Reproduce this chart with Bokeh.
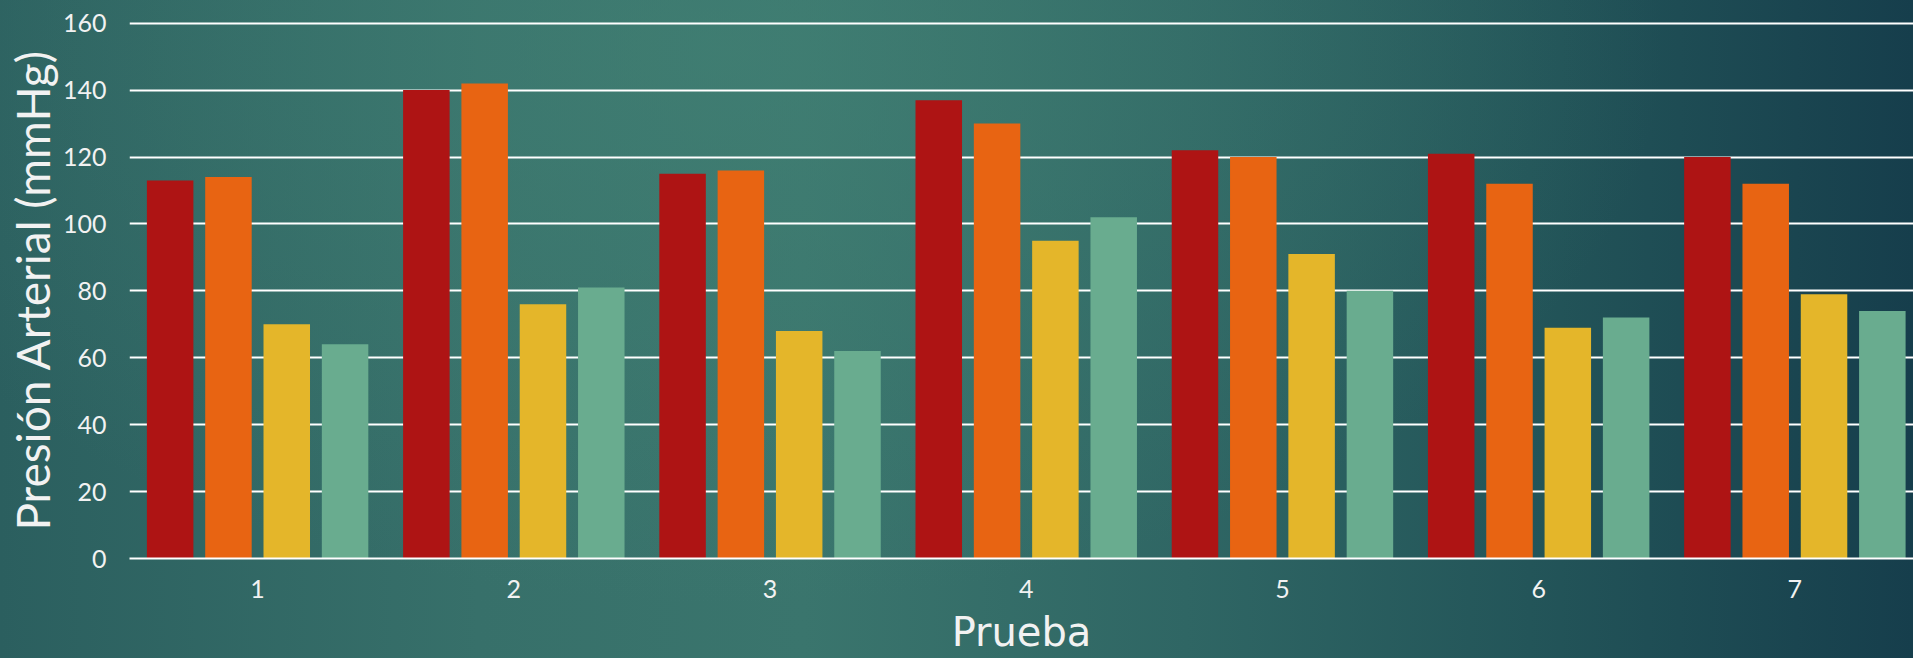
from bokeh.plotting import figure
from bokeh.models import ColumnDataSource, Range1d, FixedTicker
from bokeh.transform import dodge
from bokeh.embed import file_html
from bokeh.resources import INLINE

# Data
pruebas = [1, 2, 3, 4, 5, 6, 7]
tick_labels = ["1", "2", "3", "4", "5", "6", "7"]
serie_1 = [113, 140, 115, 137, 122, 121, 120]
serie_2 = [114, 142, 116, 130, 120, 112, 112]
serie_3 = [70, 76, 68, 95, 91, 69, 79]
serie_4 = [64, 81, 62, 102, 80, 72, 74]
y_ticks = [0, 20, 40, 60, 80, 100, 120, 140, 160]
x_title = "Prueba"
y_title = "Presión Arterial (mmHg)"

source = ColumnDataSource(dict(x=pruebas, s1=serie_1, s2=serie_2, s3=serie_3, s4=serie_4))

FONT = "Lato"
p = figure(width=1913, height=658, output_backend="svg", toolbar_location=None,
           x_range=Range1d(0.5, 7.463), y_range=Range1d(0, 160.5),
           min_border_left=129, min_border_right=0, min_border_top=21, min_border_bottom=100)

p.background_fill_alpha = 0
p.border_fill_alpha = 0
p.outline_line_color = None
p.styles = {
    "background-image": (
        "radial-gradient(ellipse 70% 120% at 38% 8%, rgba(68,132,118,0.55) 0%, rgba(68,132,118,0) 70%),"
        "linear-gradient(90deg, #2b5f5f 0%, #37706a 25%, #3a756d 42%, #2f6664 62%, #235559 80%, #163e4c 100%)"
    )
}

colors = ["#ae1414", "#e86412", "#e4b62a", "#69ac8f"]
cols = ["s1", "s2", "s3", "s4"]
offsets = [-0.3414, -0.1138, 0.1138, 0.3414]
for c, col, off in zip(colors, cols, offsets):
    p.vbar(x=dodge("x", off, range=p.x_range), top=col, bottom=0, width=0.1815,
           source=source, fill_color=c, line_color=None)

# grid
p.xgrid.grid_line_color = None
p.ygrid.grid_line_color = "white"
p.ygrid.grid_line_width = 2
p.ygrid.ticker = FixedTicker(ticks=y_ticks)

# y axis
p.yaxis.ticker = FixedTicker(ticks=y_ticks)
p.yaxis.axis_line_color = None
p.yaxis.major_tick_line_color = None
p.yaxis.minor_tick_line_color = None
p.yaxis.major_tick_out = 0
p.yaxis.major_label_standoff = 23
p.yaxis.major_label_text_font = FONT
p.yaxis.major_label_text_font_size = "25px"
p.yaxis.major_label_text_color = "#f2f2f2"
p.yaxis.axis_label = y_title
p.yaxis.axis_label_text_font = FONT
p.yaxis.axis_label_text_font_size = "46px"
p.yaxis.axis_label_text_font_style = "normal"
p.yaxis.axis_label_text_color = "#f2f2f2"
p.yaxis.axis_label_standoff = 0

# x axis
p.xaxis.ticker = FixedTicker(ticks=pruebas)
p.xaxis.major_label_overrides = {v: t for v, t in zip(pruebas, tick_labels)}
p.xaxis.axis_line_color = "white"
p.xaxis.axis_line_width = 2
p.xaxis.major_tick_line_color = None
p.xaxis.minor_tick_line_color = None
p.xaxis.major_tick_out = 0
p.xaxis.major_label_standoff = 21
p.xaxis.major_label_text_font = FONT
p.xaxis.major_label_text_font_size = "25px"
p.xaxis.major_label_text_color = "#f2f2f2"
p.xaxis.axis_label = x_title
p.xaxis.axis_label_text_font = "DejaVu Sans"
p.xaxis.axis_label_text_font_size = "40px"
p.xaxis.axis_label_text_font_style = "normal"
p.xaxis.axis_label_text_color = "#f2f2f2"
p.xaxis.axis_label_standoff = 8

open("out.html", "w").write(file_html(p, INLINE))
